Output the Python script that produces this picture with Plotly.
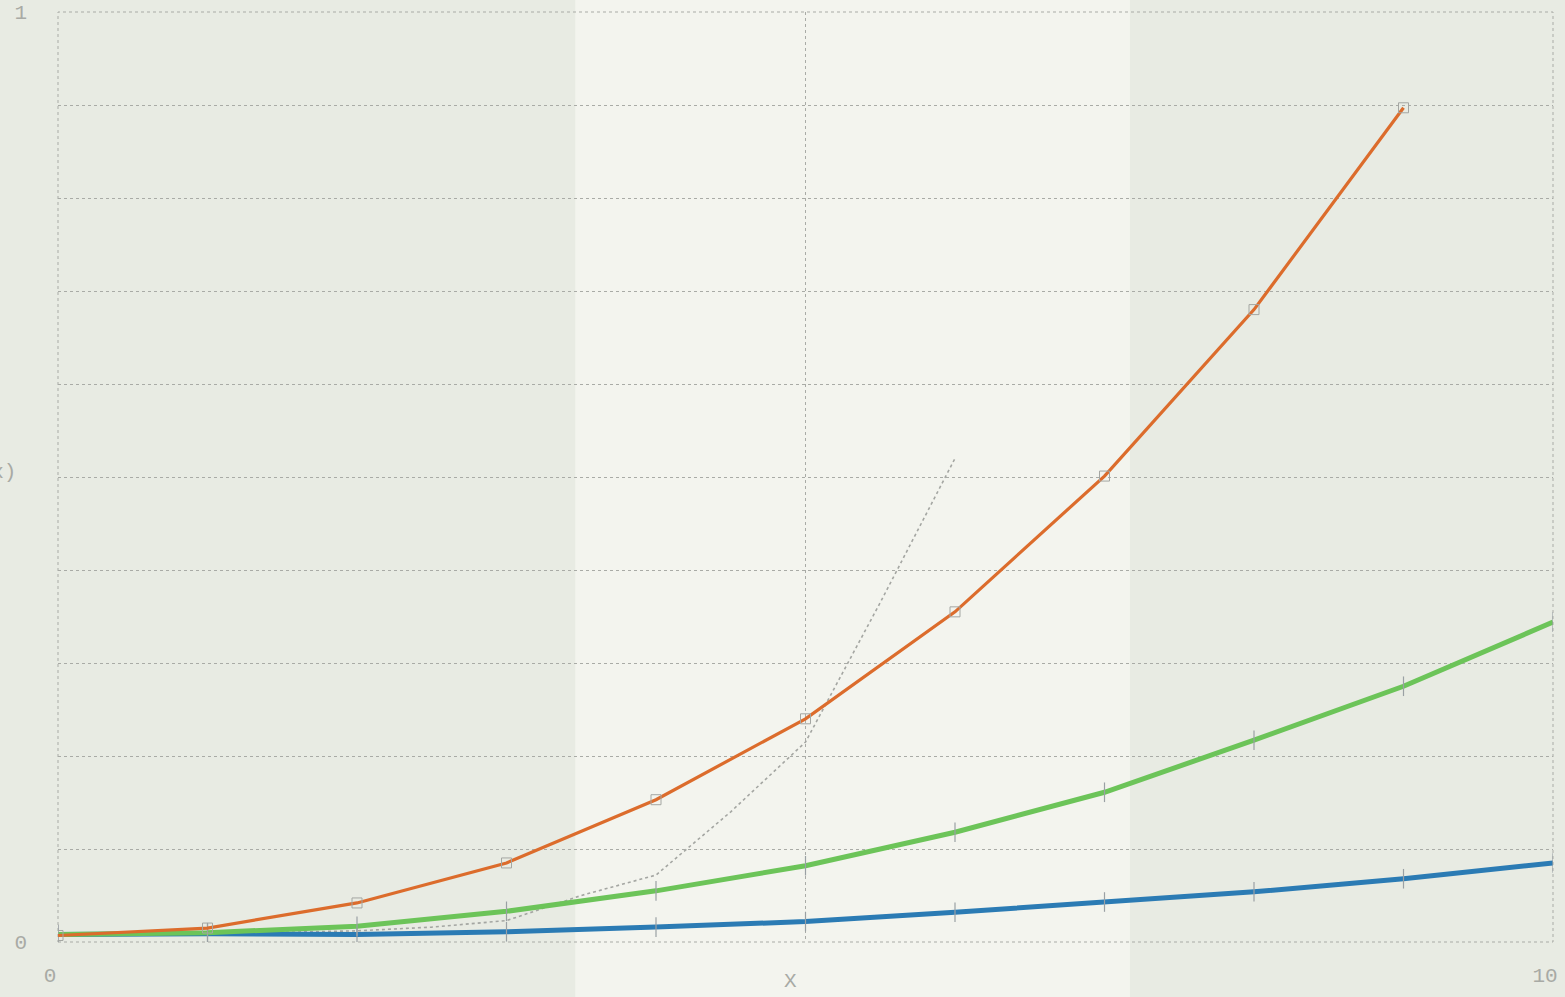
import plotly.graph_objects as go

# ---- data ----
x_orange = [0, 1, 2, 3, 4, 5, 6, 7, 8, 9]
y_orange = [0.007, 0.015, 0.042, 0.085, 0.153, 0.240, 0.355, 0.501, 0.680, 0.897]

x_green = [0, 1, 2, 3, 4, 5, 6, 7, 8, 9, 10]
y_green = [0.008, 0.010, 0.017, 0.033, 0.055, 0.082, 0.118, 0.161, 0.217, 0.275, 0.344]

x_blue = [0, 1, 2, 3, 4, 5, 6, 7, 8, 9, 10]
y_blue = [0.008, 0.009, 0.008, 0.011, 0.016, 0.022, 0.032, 0.043, 0.054, 0.068, 0.085]

x_grey = [0, 1, 2, 2.5, 3, 3.5, 4, 4.5, 5, 5.5, 6]
y_grey = [0.008, 0.009, 0.012, 0.016, 0.023, 0.050, 0.072, 0.140, 0.215, 0.365, 0.520]

x_ticks = [0, 5, 10]
x_ticktext = ["0", "", "10"]
y_ticks = [0, 0.1, 0.2, 0.3, 0.4, 0.5, 0.6, 0.7, 0.8, 0.9, 1.0]
y_ticktext = ["0", "", "", "", "", "", "", "", "", "", "1"]

x_title = "X"
y_title = "f(x)"

# ---- styles ----
PAPER = "#e8ebe3"
BAND = "#f3f4ee"
GRID = "#a9aba6"
TEXT = "#a8aaa5"
FONT = "Liberation Mono"

fig = go.Figure()

fig.add_trace(go.Scatter(
    x=x_grey, y=y_grey, mode="lines",
    line=dict(color="#a4a6a2", width=1.6, dash="dot"),
    showlegend=False, hoverinfo="skip"))

fig.add_trace(go.Scatter(
    x=x_blue, y=y_blue, mode="lines+markers",
    line=dict(color="#2b7bb4", width=5),
    marker=dict(symbol="line-ns", size=14, line=dict(color="#9aa0a4", width=1.2)),
    showlegend=False))

fig.add_trace(go.Scatter(
    x=x_green, y=y_green, mode="lines+markers",
    line=dict(color="#6cc459", width=5),
    marker=dict(symbol="line-ns", size=14, line=dict(color="#9aa0a4", width=1.2)),
    showlegend=False))

fig.add_trace(go.Scatter(
    x=x_orange, y=y_orange, mode="lines+markers",
    line=dict(color="#dc6c2c", width=3.2),
    marker=dict(symbol="square-open", size=10, color="#a4a6a2", line=dict(width=1)),
    showlegend=False))

fig.update_layout(
    width=1565, height=997,
    margin=dict(l=58, r=12, t=12, b=55, autoexpand=False),
    paper_bgcolor=PAPER,
    plot_bgcolor="rgba(0,0,0,0)",
    font=dict(family=FONT, color=TEXT, size=21),
    shapes=[
        dict(type="rect", xref="paper", yref="paper",
             x0=0.346, x1=0.717, y0=-0.1, y1=1.1,
             fillcolor=BAND, line=dict(width=0), layer="below"),
        dict(type="rect", xref="paper", yref="paper",
             x0=0, x1=1, y0=0, y1=1,
             line=dict(color=GRID, width=1, dash="dot"), layer="below"),
    ],
    annotations=[
        dict(text=y_title, xref="paper", yref="paper", x=-0.0268, y=0.505,
             xanchor="right", yanchor="middle", showarrow=False,
             font=dict(family=FONT, color=TEXT, size=21)),
        dict(text=x_title, xref="paper", yref="paper", x=0.49, y=-0.043,
             xanchor="center", yanchor="middle", showarrow=False,
             font=dict(family=FONT, color=TEXT, size=21)),
    ],
)

fig.update_xaxes(
    range=[0, 10], tickvals=x_ticks, ticktext=x_ticktext,
    showgrid=True, gridcolor=GRID, griddash="dot", gridwidth=1,
    zeroline=False, showline=False, ticks="",
    ticklabelstandoff=18, ticklabelshift=-8,
    ticklabeloverflow="allow", automargin=False,
)
fig.update_yaxes(
    range=[0, 1], tickvals=y_ticks, ticktext=y_ticktext,
    showgrid=True, gridcolor=GRID, griddash="dot", gridwidth=1,
    zeroline=False, showline=False, ticks="",
    ticklabelstandoff=30, ticklabeloverflow="allow", automargin=False,
)

fig.write_html("out.html")
